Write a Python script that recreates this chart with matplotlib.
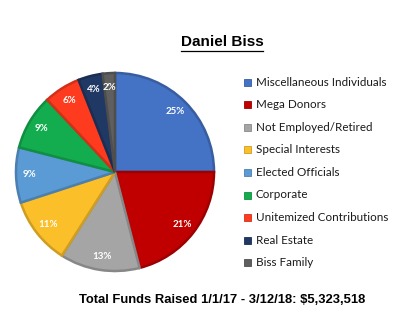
import matplotlib.pyplot as plt
from matplotlib.patches import Rectangle
from matplotlib.colors import to_rgb

# funding sources and their share of total funds (%)
categories = ['Miscellaneous Individuals', 'Mega Donors', 'Not Employed/Retired',
              'Special Interests', 'Elected Officials', 'Corporate',
              'Unitemized Contributions', 'Real Estate', 'Biss Family']
shares = [25, 21, 13, 11, 9, 9, 6, 4, 2]
colors = ['#4472C4', '#C00000', '#A5A5A5', '#FBBF2A', '#5B9BD5',
          '#13AD4F', '#FF3B1F', '#203864', '#5F5F5F']

title = 'Daniel Biss'
footer = 'Total Funds Raised 1/1/17 - 3/12/18: $5,323,518'


def darker(c, f=0.82):
    r, g, b = to_rgb(c)
    return (r * f, g * f, b * f)


fig = plt.figure(figsize=(3.95, 3.27), dpi=100)
W, H = 395, 327

# pie axes centred at (115, 172) px, radius ~101 px
cx, cy, rad = 115, 172, 101
ax = fig.add_axes([(cx - rad) / W, 1 - (cy + rad) / H, 2 * rad / W, 2 * rad / H])
wedges, texts, autotexts = ax.pie(
    shares, colors=colors, startangle=90, counterclock=False,
    autopct=lambda p: f'{p:.0f}%', pctdistance=0.86,
    wedgeprops=dict(linewidth=1.8), textprops=dict(color='white', fontsize=7,
                                                     fontweight='bold', family='Lato'))
for w, c in zip(wedges, colors):
    w.set_edgecolor(darker(c))
ax.set_xlim(-1.02, 1.02)
ax.set_ylim(-1.02, 1.02)
ax.set_aspect('equal')
ax.axis('off')

# title with underline
t = fig.text(222 / W, 1 - 42 / H, title, ha='center', va='center',
             fontsize=11, fontweight='bold', family='Liberation Sans')
fig.canvas.draw()
bb = t.get_window_extent()
fig.add_artist(plt.Line2D([bb.x0 / W, bb.x1 / W], [(bb.y0 - 1.5) / H] * 2,
                          color='black', linewidth=0.9))

# legend drawn by hand
y0, step = 82, 22.6
for i, (lab, c) in enumerate(zip(categories, colors)):
    y = y0 + i * step
    fig.add_artist(Rectangle((244 / W, 1 - (y + 3.5) / H), 7 / W, 7 / H,
                             facecolor=c, edgecolor=darker(c), linewidth=0.6,
                             transform=fig.transFigure))
    fig.text(256 / W, 1 - y / H, lab, ha='left', va='center',
             fontsize=8.4, family='Lato', color='#1a1a1a')

fig.text(222 / W, 1 - 300 / H, footer, ha='center', va='center',
         fontsize=9.4, fontweight='bold', family='Liberation Sans')

fig.savefig('out.png', dpi=100)
